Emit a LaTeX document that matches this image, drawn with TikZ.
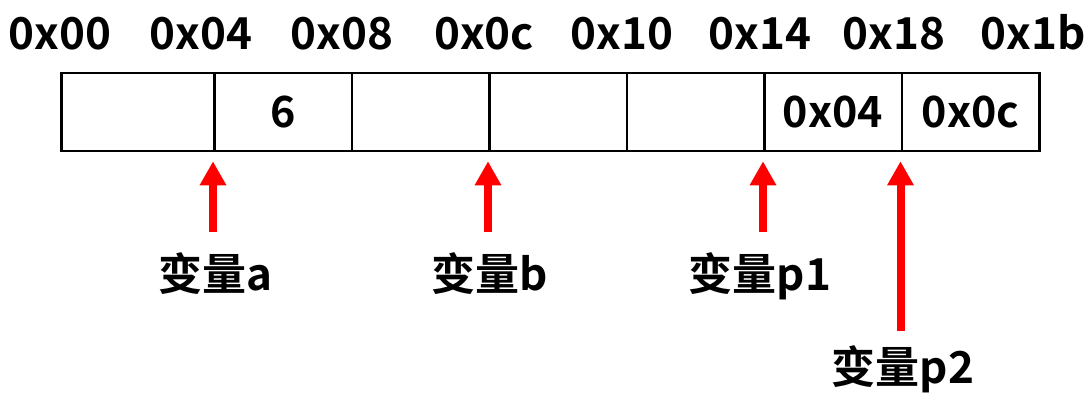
\documentclass[tikz,border=0pt]{standalone}
\usepackage{fontspec}
\setmainfont{Noto Sans CJK SC}[BoldFont=Noto Sans CJK SC Bold]
\usetikzlibrary{arrows.meta}
\begin{document}
\begin{tikzpicture}[x=1pt,y=-1pt,
  cell/.style={draw=black,line width=2.5pt,minimum height=78pt,inner sep=0pt,anchor=west,font=\bfseries\fontsize{43}{45}\selectfont},
  addr/.style={font=\bfseries\fontsize{44}{46}\selectfont,inner sep=0pt,anchor=base},
  lbl/.style={font=\bfseries\fontsize{44}{46}\selectfont,inner sep=0pt,anchor=base},
  ptr/.style={draw=red,line width=8pt,-{Triangle[width=25pt,length=24pt]},shorten >=9pt}]
\useasboundingbox (0,0) rectangle (1089,393);
% memory cells
\node[cell,minimum width=153pt] (c1) at (60,112) {};
\node[cell,minimum width=137.5pt] (c2) at (213,112) {6};
\node[cell,minimum width=137.5pt] (c3) at (350.5,112) {};
\node[cell,minimum width=137.5pt] (c4) at (488,112) {};
\node[cell,minimum width=137.5pt] (c5) at (625.5,112) {};
\node[cell,minimum width=137.5pt] (c6) at (763,112) {0x04};
\node[cell,minimum width=137.5pt] (c7) at (900.5,112) {0x0c};
% addresses
\node[addr] (a00) at (60,50) {0x00};
\node[addr] (a04) at (201,50) {0x04};
\node[addr] (a08) at (342,50) {0x08};
\node[addr] (a0c) at (484,50) {0x0c};
\node[addr] (a10) at (622,50) {0x10};
\node[addr] (a14) at (760,50) {0x14};
\node[addr] (a18) at (894,50) {0x18};
\node[addr] (a1b) at (1033,50) {0x1b};
% variable labels
\node[lbl] (va) at (215,290) {变量a};
\node[lbl] (vb) at (490,290) {变量b};
\node[lbl] (vp1) at (760,290) {变量p1};
\node[lbl] (vp2) at (903,383) {变量p2};
% arrow tails
\coordinate (ta) at (213,232);
\coordinate (tb) at (488,232);
\coordinate (tp1) at (763,232);
\coordinate (tp2) at (900.5,331);
\draw[ptr] (ta) -- (c2.south west);
\draw[ptr] (tb) -- (c4.south west);
\draw[ptr] (tp1) -- (c6.south west);
\draw[ptr] (tp2) -- (c7.south west);
\end{tikzpicture}
\end{document}
